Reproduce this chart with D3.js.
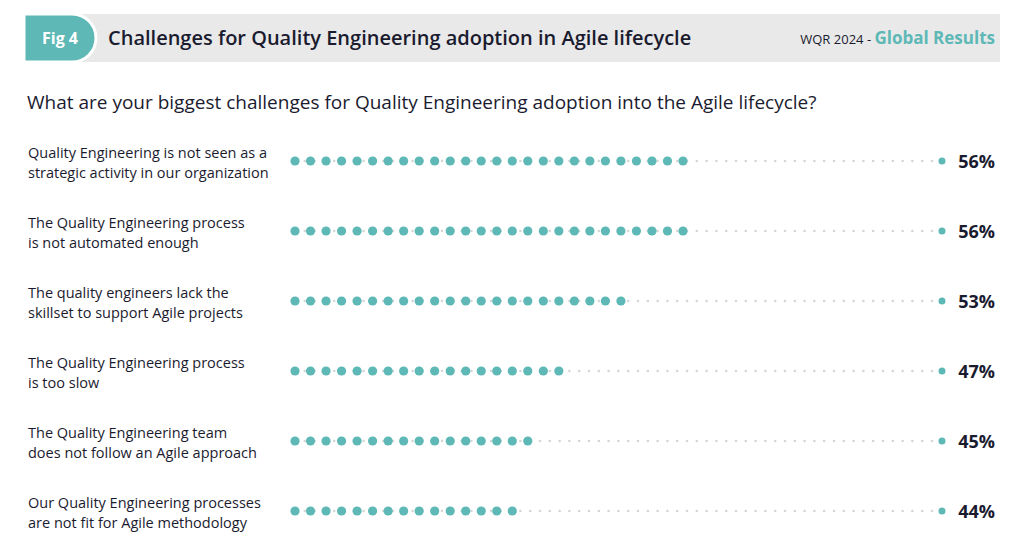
<!DOCTYPE html>
<html><head><meta charset="utf-8">
<script src="https://cdn.jsdelivr.net/npm/d3@7/dist/d3.min.js"></script>
<style>body{margin:0;background:#fff}svg{display:block}</style>
</head><body>
<svg id="c" width="1024" height="553"></svg>
<script>
const categories = [
  ["Quality Engineering is not seen as a", "strategic activity in our organization"],
  ["The Quality Engineering process", "is not automated enough"],
  ["The quality engineers lack the", "skillset to support Agile projects"],
  ["The Quality Engineering process", "is too slow"],
  ["The Quality Engineering team", "does not follow an Agile approach"],
  ["Our Quality Engineering processes", "are not fit for Agile methodology"]
];
const values = [56, 56, 53, 47, 45, 44];
const dotCounts = [26, 26, 22, 18, 16, 15];
const valueLabels = ["56%", "56%", "53%", "47%", "45%", "44%"];

const teal = "#5db8b6", dark = "#1b1b2f";
const font = "'Open Sans', 'Noto Sans', sans-serif";
const svg = d3.select("#c");

// header
svg.append("rect").attr("x", 24).attr("y", 14).attr("width", 976).attr("height", 48).attr("fill", "#e9e9e9");
const tabPath = d3.path();
tabPath.moveTo(24, 14); tabPath.lineTo(72, 14);
tabPath.arc(72, 38, 24, -Math.PI/2, Math.PI/2); tabPath.lineTo(24, 62); tabPath.closePath();
svg.append("path").attr("d", tabPath.toString()).attr("fill", teal).attr("stroke", "#fff").attr("stroke-width", 3);
svg.append("rect").attr("x", 22).attr("y", 14).attr("width", 2.5).attr("height", 48).attr("fill", "#fff");
svg.append("text").attr("x", 60).attr("y", 44).attr("text-anchor", "middle").attr("fill", "#fff")
  .attr("font-family", font).attr("font-weight", 700).attr("font-size", 16).text("Fig 4");
svg.append("text").attr("x", 108).attr("y", 45).attr("fill", dark).attr("font-family", font)
  .attr("font-weight", 600).attr("font-size", 20).text("Challenges for Quality Engineering adoption in Agile lifecycle");
const rt = svg.append("text").attr("x", 995).attr("y", 44).attr("text-anchor", "end").attr("font-family", font);
rt.append("tspan").attr("fill", dark).attr("font-size", 13).text("WQR 2024 - ");
rt.append("tspan").attr("fill", teal).attr("font-size", 17).attr("font-weight", 700).text("Global Results");

svg.append("text").attr("x", 27).attr("y", 109).attr("fill", dark).attr("font-family", font)
  .attr("font-size", 19).text("What are your biggest challenges for Quality Engineering adoption into the Agile lifecycle?");

// scales
const y = d3.scalePoint().domain(d3.range(categories.length)).range([161, 511]);
const xi = d3.scaleLinear().domain([0, 25]).range([295, 683]);
const endX = 942;

const rows = svg.selectAll("g.row").data(categories.map((c, i) => ({c, i, v: values[i], n: dotCounts[i], l: valueLabels[i]})))
  .join("g").attr("class", "row").attr("transform", d => `translate(0,${y(d.i)})`);

rows.append("line").attr("x1", xi(0)).attr("x2", endX - 6).attr("y1", 0).attr("y2", 0)
  .attr("stroke", "#d3d6d6").attr("stroke-width", 2.6).attr("stroke-linecap", "round").attr("stroke-dasharray", "0 9.8");

rows.selectAll("circle.d").data(d => d3.range(d.n)).join("circle").attr("class", "d")
  .attr("cx", k => xi(k)).attr("cy", 0).attr("r", 4.6).attr("fill", teal);
rows.append("circle").attr("cx", endX).attr("cy", 0).attr("r", 3.5).attr("fill", teal);

rows.append("text").attr("x", 995).attr("y", 6.5).attr("text-anchor", "end").attr("fill", dark)
  .attr("font-family", font).attr("font-weight", 700).attr("font-size", 18).text(d => d.l);

rows.append("text").attr("font-family", font).attr("font-size", 14.5).attr("fill", dark)
  .selectAll("tspan").data(d => d.c).join("tspan").attr("x", 28).attr("y", (t, j) => j === 0 ? -3.5 : 16.5).text(t => t);
</script>
</body></html>
